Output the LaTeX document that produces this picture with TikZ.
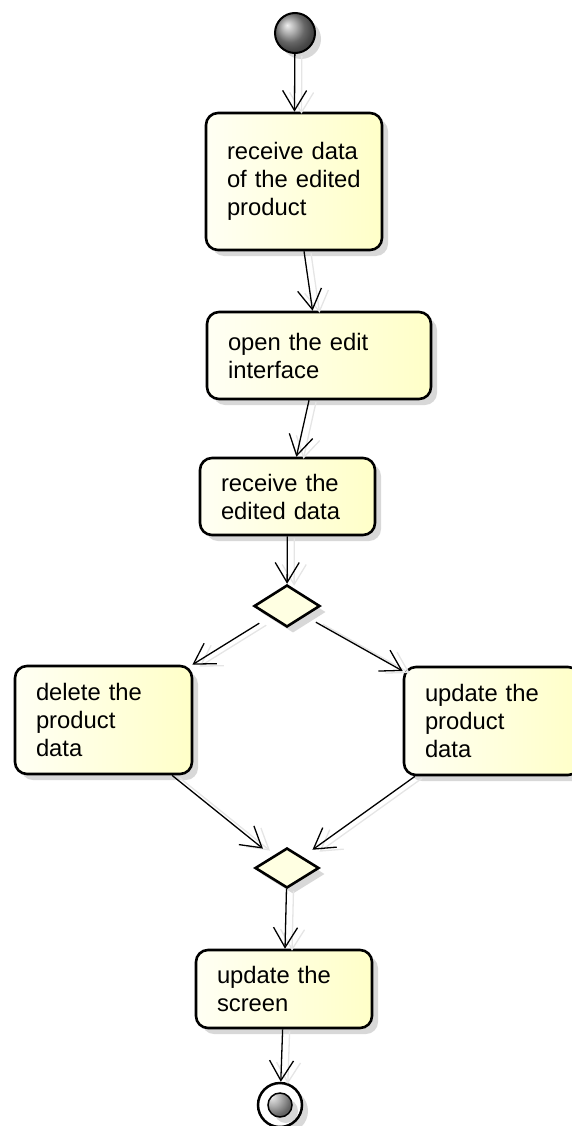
\documentclass[tikz,border=0pt]{standalone}
\usepackage{fontspec}
\setmainfont{Liberation Sans}
\usetikzlibrary{arrows.meta,shapes.geometric,shadows}

\definecolor{actleft}{RGB}{255,255,244}
\definecolor{actright}{RGB}{255,255,200}
\definecolor{decfill}{RGB}{255,255,226}

\begin{document}
\begin{tikzpicture}[x=1pt,y=1pt,->,>={Straight Barb[length=20pt,width=24pt]},
                    line width=1.3pt,
                    every edge/.append style={preaction={draw=black!10,
                        transform canvas={shift={(7pt,-2pt)}}}},
                    shade/.style={drop shadow={shadow xshift=6pt,shadow yshift=-6pt,
                        fill=black!30}},
                    action/.style={rectangle,rounded corners=12pt,draw,line width=2.6pt,
                        left color=actleft,right color=actright,align=left,
                        inner xsep=21pt,inner ysep=0pt,shade,
                        font=\fontsize{23.8}{28}\selectfont},
                    decision/.style={diamond,draw,line width=2.6pt,fill=decfill,
                        inner sep=0pt,shade},
                    initial/.style={circle,draw,line width=2pt,ball color=gray!85,
                        minimum size=40pt,inner sep=0pt,shade},
                    final/.style={circle,draw,line width=2.5pt,fill=white,
                        minimum size=44pt,inner sep=0pt,shade,
                        path picture={\shade[ball color=gray!85]
                          (path picture bounding box.center) circle (12pt);
                          \draw[-,line width=1.5pt]
                          (path picture bounding box.center) circle (12pt);}}]

  \useasboundingbox (0,0) rectangle (571,-1126);

  \node[initial]  (start)  at (295,-33)     {};
  \node[action]   (recv)   at (294,-181.5)  [text width=134pt,minimum height=137pt]
                           {receive data\\of the edited\\product};
  \node[action]   (open)   at (319,-355.5)  [text width=182pt,minimum height=87pt]
                           {open the edit\\interface};
  \node[action]   (recv2)  at (287.5,-496.5) [text width=133pt,minimum height=77pt]
                           {receive the\\edited data};
  \node[decision] (dec1)   at (287,-606)    [minimum width=66pt,minimum height=42pt] {};
  \node[action]   (delete) at (103.5,-720)  [text width=135pt,minimum height=108pt]
                           {delete the\\product\\data};
  \node[action]   (update) at (492,-721)    [text width=134pt,minimum height=108pt]
                           {update the\\product\\data};
  \node[decision] (dec2)   at (287,-868)    [minimum width=64pt,minimum height=40pt] {};
  \node[action]   (screen) at (284,-989)    [text width=134pt,minimum height=78pt]
                           {update the\\screen};
  \node[final]    (stop)   at (280,-1105)   {};

  \path (start)  edge                   (recv)
        (recv)   edge                   (open)
        (open)   edge                   (recv2)
        (recv2)  edge                   (dec1)
        (dec1)   edge [shorten <=12pt]  (delete)
                 edge [shorten <=12pt]  (update)
        (delete) edge [shorten >=12pt]  (dec2)
        (update) edge [shorten >=12pt]  (dec2)
        (dec2)   edge                   (screen)
        (screen) edge                   (stop);
\end{tikzpicture}
\end{document}
